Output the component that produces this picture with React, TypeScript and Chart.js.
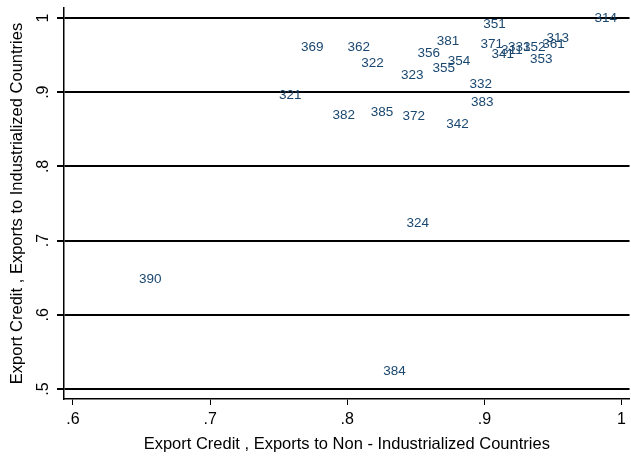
import React, { useEffect, useRef } from "react";
import { Chart, registerables } from "chart.js";

Chart.register(...registerables);

const pointLabels = [
  "314", "351", "313", "361", "369", "362", "381", "371", "331", "352",
  "341", "311", "353", "356", "354", "322", "355", "323", "332", "321",
  "383", "382", "385", "372", "342", "324", "390", "384",
];
const nonIndustrialized = [
  0.978, 0.897, 0.943, 0.940, 0.764, 0.798, 0.863, 0.895, 0.915, 0.926,
  0.903, 0.910, 0.931, 0.849, 0.871, 0.808, 0.860, 0.837, 0.887, 0.748,
  0.888, 0.787, 0.815, 0.838, 0.870, 0.841, 0.646, 0.824,
];
const industrialized = [
  0.999, 0.992, 0.973, 0.965, 0.960, 0.960, 0.969, 0.965, 0.961, 0.961,
  0.951, 0.957, 0.945, 0.953, 0.942, 0.939, 0.932, 0.923, 0.911, 0.896,
  0.887, 0.869, 0.873, 0.868, 0.857, 0.724, 0.648, 0.524,
];

const xTickValues = [0.6, 0.7, 0.8, 0.9, 1.0];
const xTickLabels = [".6", ".7", ".8", ".9", "1"];
const yTickValues = [0.5, 0.6, 0.7, 0.8, 0.9, 1.0];
const yTickLabels = [".5", ".6", ".7", ".8", ".9", "1"];

const xTitle = "Export Credit , Exports to Non - Industrialized Countries";
const yTitle = "Export Credit , Exports to Industrialized Countries";

const FONT = "'Liberation Sans', Arial, Helvetica, sans-serif";
const LABEL_COLOR = "#1a476f";

const labelPlugin = {
  id: "markerLabels",
  afterDatasetsDraw(chart: any) {
    const { ctx, scales } = chart;
    const xs = scales.x;
    const ys = scales.y;
    ctx.save();
    ctx.font = `13.5px ${FONT}`;
    ctx.fillStyle = LABEL_COLOR;
    ctx.textAlign = "left";
    ctx.textBaseline = "middle";
    pointLabels.forEach((lab, i) => {
      const px = xs.getPixelForValue(nonIndustrialized[i]);
      const py = ys.getPixelForValue(industrialized[i]);
      ctx.fillText(lab, px + 3, py);
    });
    ctx.restore();
  },
  afterDraw(chart: any) {
    const { ctx, scales } = chart;
    const ys = scales.y;
    ctx.save();
    ctx.font = `16px ${FONT}`;
    ctx.fillStyle = "#000";
    ctx.textAlign = "center";
    ctx.textBaseline = "middle";
    ys.ticks.forEach((t: any) => {
      const idx = yTickValues.findIndex((v) => Math.abs(v - t.value) < 1e-9);
      const py = ys.getPixelForValue(t.value);
      ctx.save();
      ctx.translate(44, py);
      ctx.rotate(-Math.PI / 2);
      ctx.fillText(idx >= 0 ? yTickLabels[idx] : String(t.value), 0, 0);
      ctx.restore();
    });
    ctx.restore();
  },
};

export default function App() {
  const ref = useRef<HTMLCanvasElement | null>(null);
  useEffect(() => {
    if (!ref.current) return;
    const chart = new Chart(ref.current, {
      type: "scatter",
      data: {
        datasets: [
          {
            data: nonIndustrialized.map((x, i) => ({ x, y: industrialized[i] })),
            pointRadius: 0,
            pointHoverRadius: 0,
            showLine: false,
          },
        ],
      },
      options: {
        animation: false,
        responsive: true,
        maintainAspectRatio: false,
        layout: { padding: { top: 8, right: 0, left: 0, bottom: 0 } },
        plugins: { legend: { display: false }, tooltip: { enabled: false } },
        scales: {
          x: {
            type: "linear",
            min: 0.593455,
            max: 1.005818,
            afterBuildTicks(scale: any) {
              scale.ticks = xTickValues.map((v) => ({ value: v }));
            },
            afterFit(scale: any) {
              scale.height = 57;
            },
            grid: {
              drawOnChartArea: false,
              drawTicks: true,
              tickLength: 6,
              color: "#000",
              lineWidth: 1,
            },
            border: { display: true, color: "#000", width: 1.5 },
            ticks: {
              padding: 5,
              color: "#000",
              font: { family: FONT, size: 16 },
              maxRotation: 0,
              callback(value: any) {
                const idx = xTickValues.findIndex((v) => Math.abs(v - value) < 1e-9);
                return idx >= 0 ? xTickLabels[idx] : "";
              },
            },
            title: {
              display: true,
              text: xTitle,
              color: "#000",
              font: { family: FONT, size: 16.5 },
              padding: { top: 0, bottom: 2 },
            },
          },
          y: {
            type: "linear",
            min: 0.486523,
            max: 1.013477,
            afterBuildTicks(scale: any) {
              scale.ticks = yTickValues.map((v) => ({ value: v }));
            },
            afterFit(scale: any) {
              scale.width = 64;
            },
            grid: {
              drawOnChartArea: true,
              drawTicks: true,
              tickLength: 7,
              color: "#000",
              lineWidth: 2,
            },
            border: { display: true, color: "#000", width: 1.5 },
            ticks: { display: false },
            title: {
              display: true,
              text: yTitle,
              color: "#000",
              font: { family: FONT, size: 16.5 },
              padding: { top: 8, bottom: 0 },
            },
          },
        },
      },
      plugins: [labelPlugin],
    });
    return () => chart.destroy();
  }, []);

  return (
    <div
      style={{
        position: "fixed",
        left: 0,
        top: 0,
        width: 631,
        height: 456,
        background: "#fff",
      }}
    >
      <canvas ref={ref} />
    </div>
  );
}
